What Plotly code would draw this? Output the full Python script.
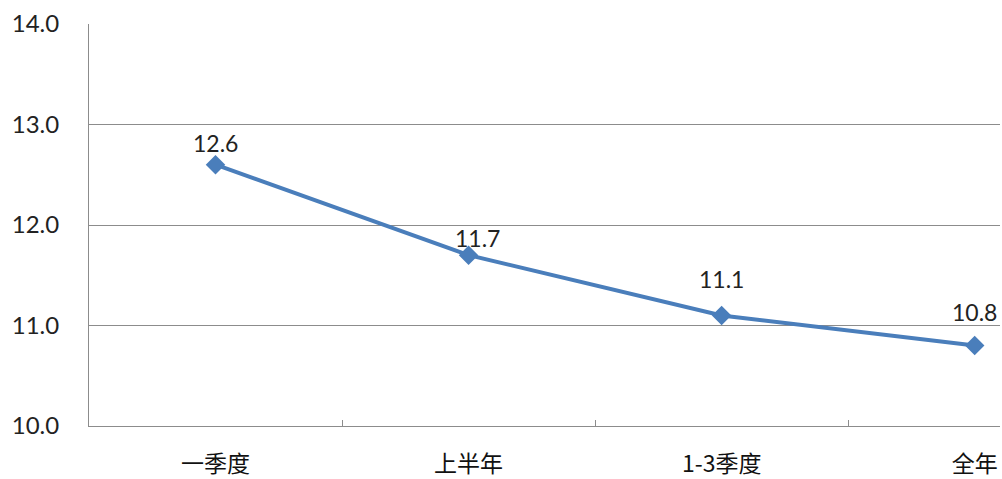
import plotly.graph_objects as go

categories = ["一季度", "上半年", "1-3季度", "全年"]
values = [12.6, 11.7, 11.1, 10.8]
value_labels = ["12.6", "11.7", "11.1", "10.8"]
y_ticks = [10, 11, 12, 13, 14]
y_tick_labels = ["10.0", "11.0", "12.0", "13.0", "14.0"]

# label offsets (pixels) relative to each point - styling only
label_dx = [0, 9, 0, 0]
label_dy = [22, 17, 36, 34]

fig = go.Figure()
fig.add_trace(go.Scatter(
    x=categories, y=values,
    mode="lines+markers",
    line=dict(color="#4a7ebb", width=4),
    marker=dict(symbol="diamond", size=15, color="#4a7ebb"),
    cliponaxis=False,
    showlegend=False,
))

for c, v, t, dx, dy in zip(categories, values, value_labels, label_dx, label_dy):
    fig.add_annotation(
        x=c, y=v, text=t, showarrow=False,
        xshift=dx, yshift=dy, yanchor="middle", xanchor="center",
        font=dict(family="Lato, Noto Sans", size=23, color="#222222"),
    )

fig.update_layout(
    width=1002, height=479,
    margin=dict(l=89, r=2, t=24, b=53),
    paper_bgcolor="white", plot_bgcolor="white",
    xaxis=dict(
        type="category",
        range=[-0.5, 3.1],
        automargin=False,
        showgrid=False,
        showline=True, linecolor="#8c8c8c", linewidth=1,
        ticks="inside", tickson="boundaries", ticklen=6, tickcolor="#8c8c8c",
        tickfont=dict(family="Noto Sans CJK SC", size=23, color="#111111"),
        ticklabelstandoff=17,
    ),
    yaxis=dict(
        range=[10, 14],
        automargin=False,
        tickvals=y_ticks, ticktext=y_tick_labels,
        showgrid=True, gridcolor="#8c8c8c", gridwidth=1,
        showline=True, linecolor="#8c8c8c", linewidth=1,
        ticks="", zeroline=False,
        tickfont=dict(family="Lato, Noto Sans", size=24, color="#222222"),
        ticklabelstandoff=24,
    ),
)

fig.write_html(
    "out.html",
    config={"displayModeBar": False},
    post_script="document.body.style.margin='0';document.body.style.overflow='hidden';",
)
